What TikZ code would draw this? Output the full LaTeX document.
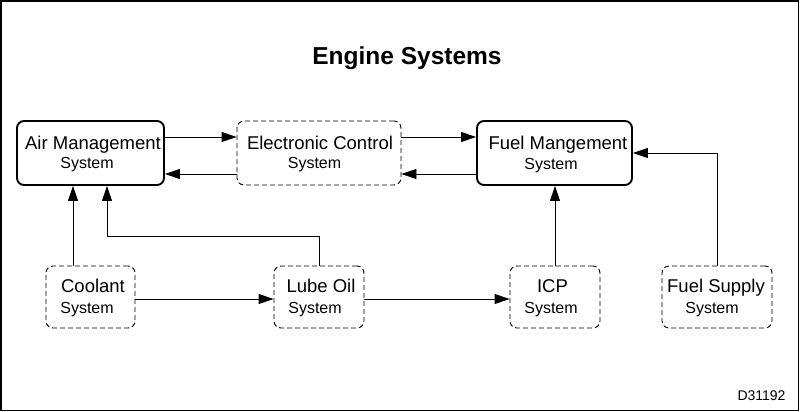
\documentclass[tikz,border=0pt]{standalone}
\usepackage{fontspec}
\setmainfont{Liberation Sans}
\usetikzlibrary{arrows.meta}
\begin{document}
\begin{tikzpicture}[x=1pt,y=-1pt,
 solidbox/.style={draw, line width=1.9pt, rounded corners=7pt, inner sep=0pt},
 dashbox/.style={draw, line width=0.9pt, dash pattern=on 5pt off 3pt, rounded corners=7pt, inner sep=0pt},
 conn/.style={line width=0.9pt, -{Triangle[length=15pt,width=10pt]}},
 big/.style={font=\fontsize{18.5}{20}\selectfont, anchor=base, inner sep=0pt},
 small/.style={font=\fontsize{16}{17}\selectfont, anchor=base, inner sep=0pt}]
\useasboundingbox (0,0) rectangle (800,412);
\fill[white] (0,0) rectangle (800,412);
\draw[line width=1.5pt] (1,1) rectangle (798.5,410.5);

\node[font=\bfseries\fontsize{24.5}{26}\selectfont, anchor=base, inner sep=0pt] (title) at (407,64) {Engine Systems};
\node[font=\fontsize{14}{16}\selectfont, anchor=base, inner sep=0pt] (code) at (761.5,400) {D31192};

% boxes
\node[solidbox, minimum width=147pt, minimum height=64pt] (air) at (90.5,153) {};
\node[dashbox, minimum width=164pt, minimum height=64pt] (elec) at (319,153) {};
\node[solidbox, minimum width=155pt, minimum height=64pt] (fuel) at (554.5,153) {};
\node[dashbox, minimum width=89pt, minimum height=62pt] (coolant) at (90.5,297) {};
\node[dashbox, minimum width=90pt, minimum height=62pt] (lube) at (319,297) {};
\node[dashbox, minimum width=90pt, minimum height=62pt] (icp) at (555,297) {};
\node[dashbox, minimum width=110pt, minimum height=62pt] (supply) at (717,297) {};

% texts
\node[big] (airA) at (93,149) {Air Management};
\node[small] (airB) at (87,168.5) {System};
\node[big] (elecA) at (320,149) {Electronic Control};
\node[small] (elecB) at (314.5,168.5) {System};
\node[big] (fuelA) at (558,149) {Fuel Mangement};
\node[small] (fuelB) at (551,169) {System};
\node[big] (coolA) at (93,292) {Coolant};
\node[small] (coolB) at (87,313) {System};
\node[big] (lubeA) at (321,292) {Lube Oil};
\node[small] (lubeB) at (315,313) {System};
\node[big] (icpA) at (552.5,292) {ICP};
\node[small] (icpB) at (551,313) {System};
\node[big] (supA) at (716,292) {Fuel Supply};
\node[small] (supB) at (712,313) {System};

% connectors
\draw[conn] (air.east |- 0,137) -- (elec.west |- 0,137);
\draw[conn] (elec.west |- 0,174) -- (air.east |- 0,174);
\draw[conn] (elec.east |- 0,137) -- (fuel.west |- 0,137);
\draw[conn] (fuel.west |- 0,174) -- (elec.east |- 0,174);
\draw[conn] (supply.north) -- (supply.north |- 0,153) -- (fuel.east |- 0,153);
\draw[conn] (icp.north) -- (icp.north |- fuel.south);
\draw[conn] (coolant.north -| 73,0) -- (air.south -| 73,0);
\draw[conn] (lube.north) -- (lube.north |- 0,236) -- (107,236) -- (air.south -| 107,0);
\draw[conn] (coolant.east |- 0,299) -- (lube.west |- 0,299);
\draw[conn] (lube.east |- 0,299) -- (icp.west |- 0,299);
\end{tikzpicture}
\end{document}
